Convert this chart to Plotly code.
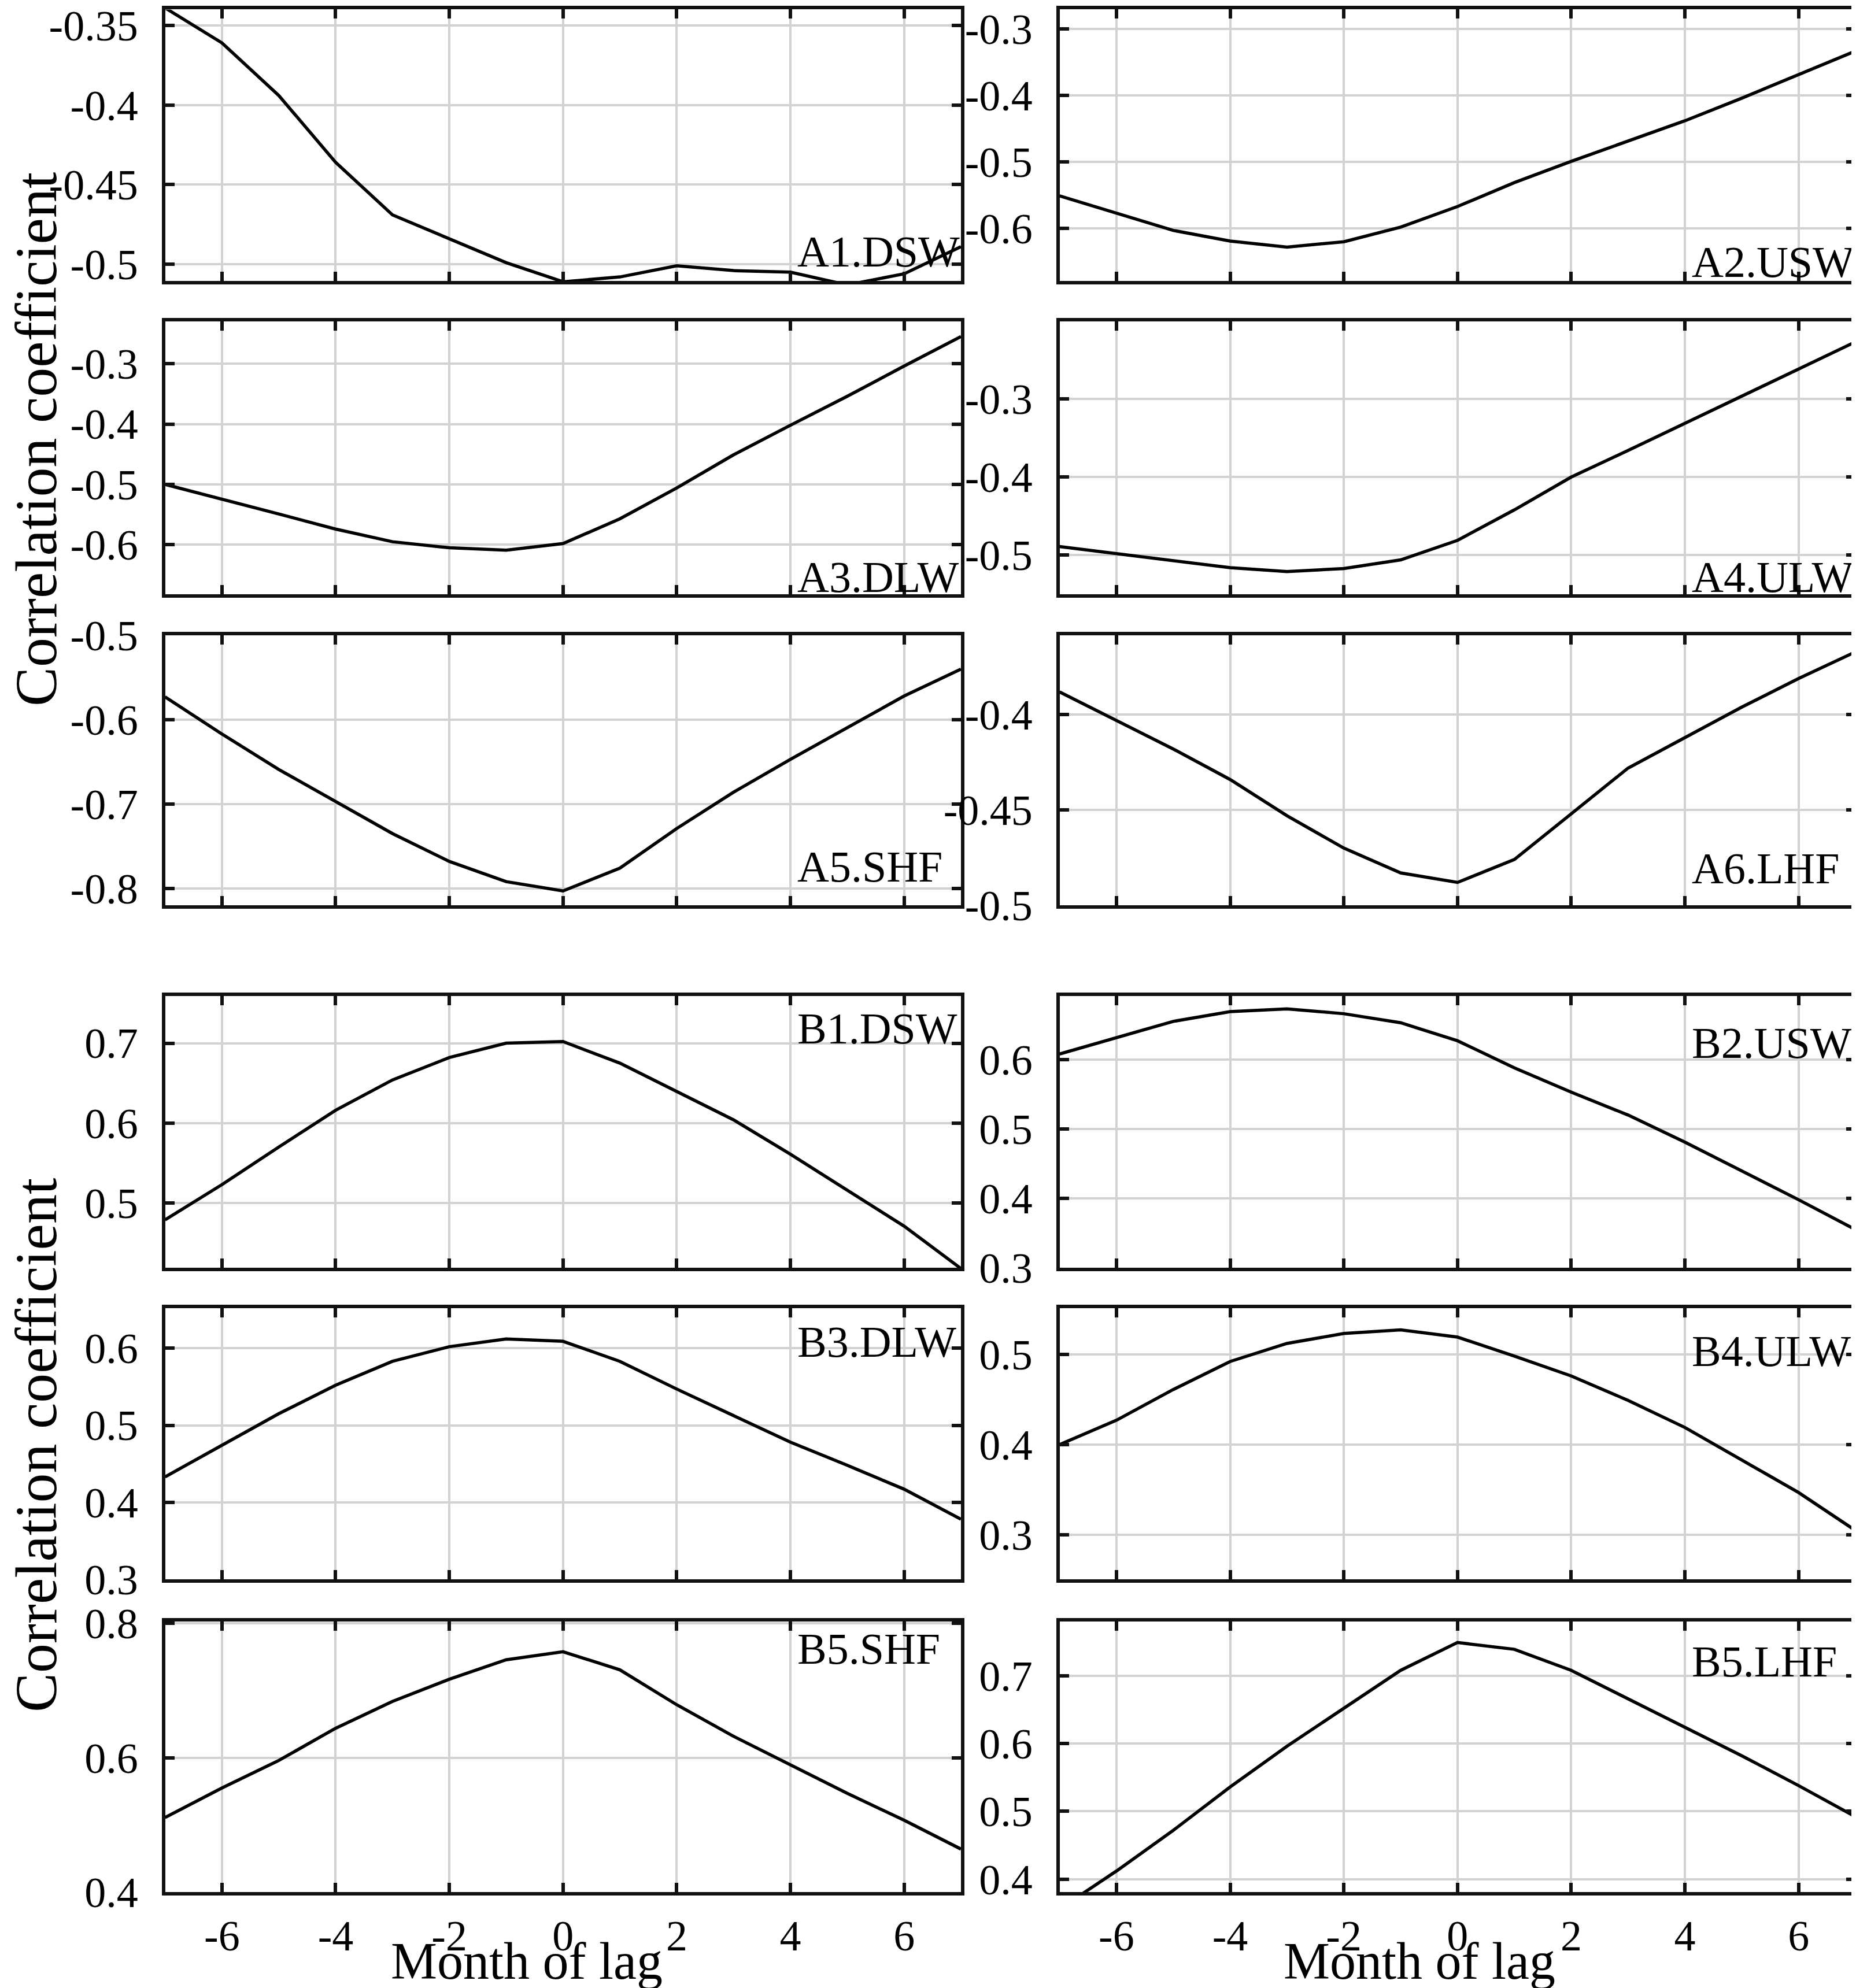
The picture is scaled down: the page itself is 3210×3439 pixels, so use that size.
import plotly.graph_objects as go

W, H = 3210, 3439

months = list(range(-7, 8))

# panel names (row-major, 2 columns)
panel_names = ["A1.DSW", "A2.USW", "A3.DLW", "A4.ULW", "A5.SHF", "A6.LHF",
               "B1.DSW", "B2.USW", "B3.DLW", "B4.ULW", "B5.SHF", "B5.LHF"]

A1_DSW = [-0.339, -0.361, -0.394, -0.436, -0.469, -0.484, -0.499, -0.511, -0.508, -0.501, -0.504, -0.505, -0.513, -0.506, -0.489]
A2_USW = [-0.551, -0.577, -0.603, -0.619, -0.628, -0.620, -0.598, -0.567, -0.531, -0.499, -0.469, -0.438, -0.404, -0.369, -0.333]
A3_DLW = [-0.500, -0.524, -0.549, -0.574, -0.595, -0.605, -0.609, -0.598, -0.557, -0.506, -0.451, -0.402, -0.354, -0.304, -0.255]
A4_ULW = [-0.489, -0.498, -0.507, -0.516, -0.521, -0.517, -0.506, -0.481, -0.442, -0.400, -0.366, -0.331, -0.296, -0.261, -0.227]
A5_SHF = [-0.573, -0.617, -0.659, -0.697, -0.735, -0.768, -0.792, -0.803, -0.776, -0.729, -0.686, -0.647, -0.609, -0.572, -0.540]
A6_LHF = [-0.388, -0.403, -0.418, -0.434, -0.453, -0.470, -0.483, -0.488, -0.476, -0.452, -0.428, -0.412, -0.396, -0.381, -0.367]
B1_DSW = [0.479, 0.523, 0.570, 0.616, 0.654, 0.682, 0.700, 0.702, 0.675, 0.640, 0.604, 0.561, 0.516, 0.471, 0.418]
B2_USW = [0.608, 0.631, 0.655, 0.669, 0.673, 0.666, 0.653, 0.627, 0.588, 0.553, 0.520, 0.481, 0.440, 0.398, 0.355]
B3_DLW = [0.433, 0.474, 0.515, 0.552, 0.583, 0.602, 0.612, 0.609, 0.583, 0.547, 0.513, 0.478, 0.448, 0.417, 0.378]
B4_ULW = [0.400, 0.427, 0.461, 0.492, 0.512, 0.523, 0.527, 0.519, 0.498, 0.476, 0.449, 0.419, 0.383, 0.347, 0.305]
B5_SHF = [0.511, 0.555, 0.596, 0.644, 0.684, 0.717, 0.746, 0.758, 0.731, 0.679, 0.632, 0.590, 0.547, 0.507, 0.464]
B5_LHF = [0.356, 0.412, 0.472, 0.536, 0.596, 0.652, 0.708, 0.749, 0.739, 0.708, 0.666, 0.624, 0.582, 0.538, 0.492]

series = [A1_DSW, A2_USW, A3_DLW, A4_ULW, A5_SHF, A6_LHF,
          B1_DSW, B2_USW, B3_DLW, B4_ULW, B5_SHF, B5_LHF]

y_ranges = [[-0.5105, -0.340], [-0.679, -0.2705], [-0.682, -0.230], [-0.550, -0.2008],
            [-0.820, -0.500], [-0.500, -0.3583], [0.419, 0.759], [0.300, 0.6915],
            [0.300, 0.652], [0.251, 0.551], [0.400, 0.803], [0.381, 0.780]]

y_ticks = [[-0.5, -0.45, -0.4, -0.35], [-0.6, -0.5, -0.4, -0.3], [-0.6, -0.5, -0.4, -0.3],
           [-0.5, -0.4, -0.3], [-0.8, -0.7, -0.6, -0.5], [-0.5, -0.45, -0.4],
           [0.5, 0.6, 0.7], [0.3, 0.4, 0.5, 0.6], [0.3, 0.4, 0.5, 0.6],
           [0.3, 0.4, 0.5], [0.4, 0.6, 0.8], [0.4, 0.5, 0.6, 0.7]]

x_ticks = [-6, -4, -2, 0, 2, 4, 6]

# layout geometry (pixels)
col_x = [(277.5, 1654), (1824.6, 3201)]
row_y = [(8.4, 478), (548, 1020), (1091, 1558), (1715, 2185), (2255, 2724), (2797, 3265)]
label_frac = [0.109, 0.07, 0.064, 0.064, 0.143, 0.137,
              0.881, 0.828, 0.876, 0.842, 0.90, 0.853]

FONT = "Liberation Serif"
GRID = "#d2d2d2"


def fmt(v):
    s = ("%.2f" % v).rstrip("0")
    if s.endswith("."):
        s += "0"
    return s


fig = go.Figure()
annotations = []
for i in range(12):
    r, c = divmod(i, 2)
    suf = "" if i == 0 else str(i + 1)
    x0, x1 = col_x[c]
    y0, y1 = row_y[r]
    xd = [x0 / W, x1 / W]
    yd = [1 - y1 / H, 1 - y0 / H]
    fig.add_trace(go.Scatter(x=months, y=series[i], mode="lines",
                             line=dict(color="black", width=5.5),
                             xaxis="x" + suf, yaxis="y" + suf, showlegend=False))
    common = dict(showgrid=True, gridcolor=GRID, gridwidth=3.5, automargin=False,
                  ticks="inside", ticklen=16, tickwidth=6, tickcolor="#111111",
                  showline=True, linewidth=6, linecolor="#111111", mirror="ticks",
                  zeroline=False, ticklabeloverflow="allow",
                  tickfont=dict(family=FONT, size=74, color="black"))
    fig.layout["xaxis" + suf] = dict(domain=xd, range=[-7, 7], tickvals=x_ticks,
                                     ticktext=[str(t) for t in x_ticks],
                                     showticklabels=(r == 5), anchor="y" + suf,
                                     ticklabelstandoff=6, **common)
    fig.layout["yaxis" + suf] = dict(domain=yd, range=y_ranges[i], tickvals=y_ticks[i],
                                     ticktext=[fmt(t) for t in y_ticks[i]],
                                     anchor="x" + suf, ticklabelstandoff=26, **common)
    annotations.append(dict(text=panel_names[i], xref="x" + suf, x=4.1, xanchor="left",
                            yref="y" + suf + " domain", y=label_frac[i], yanchor="middle",
                            showarrow=False, font=dict(family=FONT, size=76, color="black")))

for yc in (752, 2492):
    annotations.append(dict(text="Correlation coefficient", xref="paper", yref="paper",
                            x=54 / W, y=1 - yc / H, xanchor="center", yanchor="middle",
                            textangle=-90, showarrow=False,
                            font=dict(family=FONT, size=102, color="black")))
for xc in (903, 2447):
    annotations.append(dict(text="Month of lag", xref="paper", yref="paper",
                            x=xc / W, y=1 - 3384 / H, xanchor="center", yanchor="middle",
                            showarrow=False, font=dict(family=FONT, size=90, color="black")))

fig.update_layout(width=W, height=H, margin=dict(l=0, r=0, t=0, b=0, autoexpand=False),
                  paper_bgcolor="white", plot_bgcolor="white",
                  annotations=annotations, showlegend=False)

fig.write_html("out.html")
